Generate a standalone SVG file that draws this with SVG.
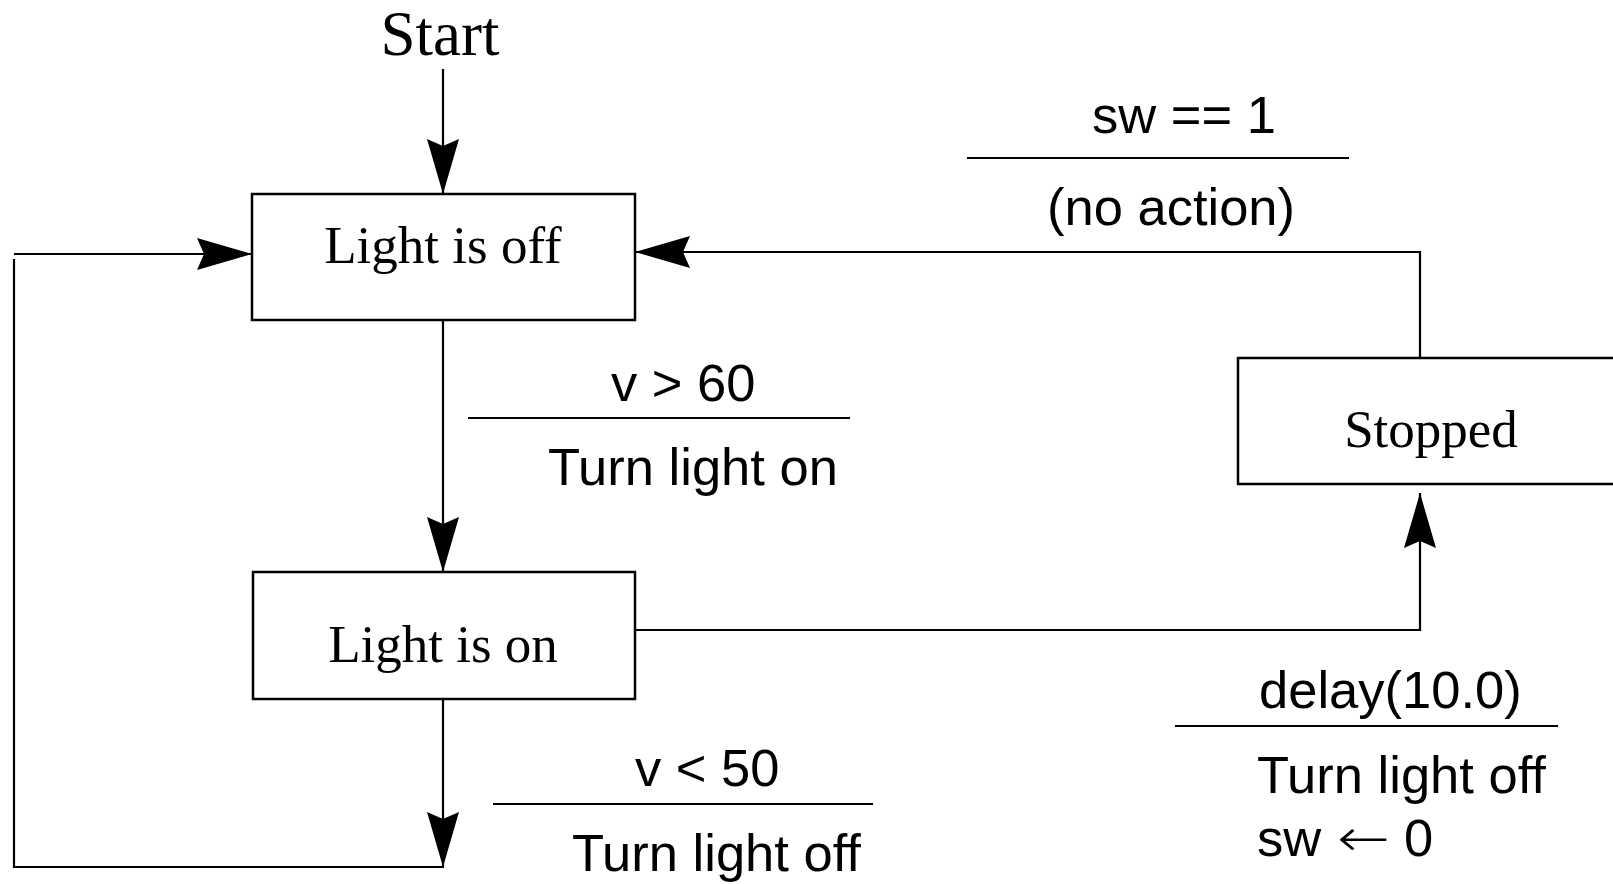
<svg xmlns="http://www.w3.org/2000/svg" width="1613" height="884" viewBox="0 0 1613 884">
  <style>
    .state { fill: #fff; stroke: #000; stroke-width: 2.5; }
    .state-label { font-family: "Liberation Serif", "Times New Roman", serif; font-size: 53px; fill: #000; text-anchor: middle; }
    .edge { fill: none; stroke: #000; stroke-width: 2.2; }
    .rule { stroke: #000; stroke-width: 2.2; }
    .guard { font-family: "Liberation Sans", Arial, "DejaVu Sans", sans-serif; font-size: 52.5px; fill: #000; }
    .assign-arrow { font-family: "DejaVu Sans", sans-serif; font-weight: 200; }
  </style>
  <defs>
    <marker id="arrow" markerUnits="userSpaceOnUse" viewBox="-57 -18 58 36" refX="0" refY="0" markerWidth="58" markerHeight="36" orient="auto">
      <path d="M0,0 L-55,-16 L-48,0 L-55,16 Z" fill="#000"/>
    </marker>
  </defs>
  <rect width="1613" height="884" fill="#fff"/>

  <!-- initial marker -->
  <g id="start">
    <text x="440" y="55" class="state-label" style="font-size:63px">Start</text>
  </g>

  <!-- states -->
  <g id="light-off">
    <rect x="252" y="194" width="383" height="126" class="state"/>
    <text x="443" y="263" class="state-label">Light is off</text>
  </g>
  <g id="light-on">
    <rect x="253" y="572" width="382" height="127" class="state"/>
    <text x="443" y="662" class="state-label">Light is on</text>
  </g>
  <g id="stopped">
    <rect x="1238" y="358" width="400" height="126" class="state"/>
    <text x="1431" y="447" class="state-label">Stopped</text>
  </g>

  <!-- transitions -->
  <g id="connectors">
    <line x1="443" y1="69" x2="443" y2="194" class="edge" marker-end="url(#arrow)"/>
    <line x1="443" y1="320" x2="443" y2="572" class="edge" marker-end="url(#arrow)"/>
    <line x1="443" y1="699" x2="443" y2="867" class="edge" marker-end="url(#arrow)"/>
    <polyline points="444,867 14,867 14,259" class="edge"/>
    <line x1="14" y1="254" x2="252" y2="254" class="edge" marker-end="url(#arrow)"/>
    <polyline points="635,630 1420,630 1420,493" class="edge" marker-end="url(#arrow)"/>
    <polyline points="1420,358 1420,252 635,252" class="edge" marker-end="url(#arrow)"/>
  </g>

  <!-- transition labels: guard over action -->
  <g id="label-off-on">
    <text x="611" y="401" class="guard">v &gt; 60</text>
    <line x1="468" y1="418" x2="850" y2="418" class="rule"/>
    <text x="548" y="485" class="guard">Turn light on</text>
  </g>
  <g id="label-on-off">
    <text x="635" y="786" class="guard">v &lt; 50</text>
    <line x1="493" y1="804" x2="873" y2="804" class="rule"/>
    <text x="572" y="871" class="guard">Turn light off</text>
  </g>
  <g id="label-on-stopped">
    <text x="1259" y="708" class="guard">delay(10.0)</text>
    <line x1="1175" y1="726" x2="1558" y2="726" class="rule"/>
    <text x="1257" y="793" class="guard">Turn light off</text>
    <text x="1257" y="856" class="guard">sw</text>
    <text x="1337" y="856" class="guard assign-arrow" textLength="53" lengthAdjust="spacingAndGlyphs">←</text>
    <text x="1404" y="856" class="guard">0</text>
  </g>
  <g id="label-stopped-off">
    <text x="1092" y="133" class="guard">sw == 1</text>
    <line x1="967" y1="158" x2="1349" y2="158" class="rule"/>
    <text x="1047" y="225" class="guard">(no action)</text>
  </g>
</svg>
